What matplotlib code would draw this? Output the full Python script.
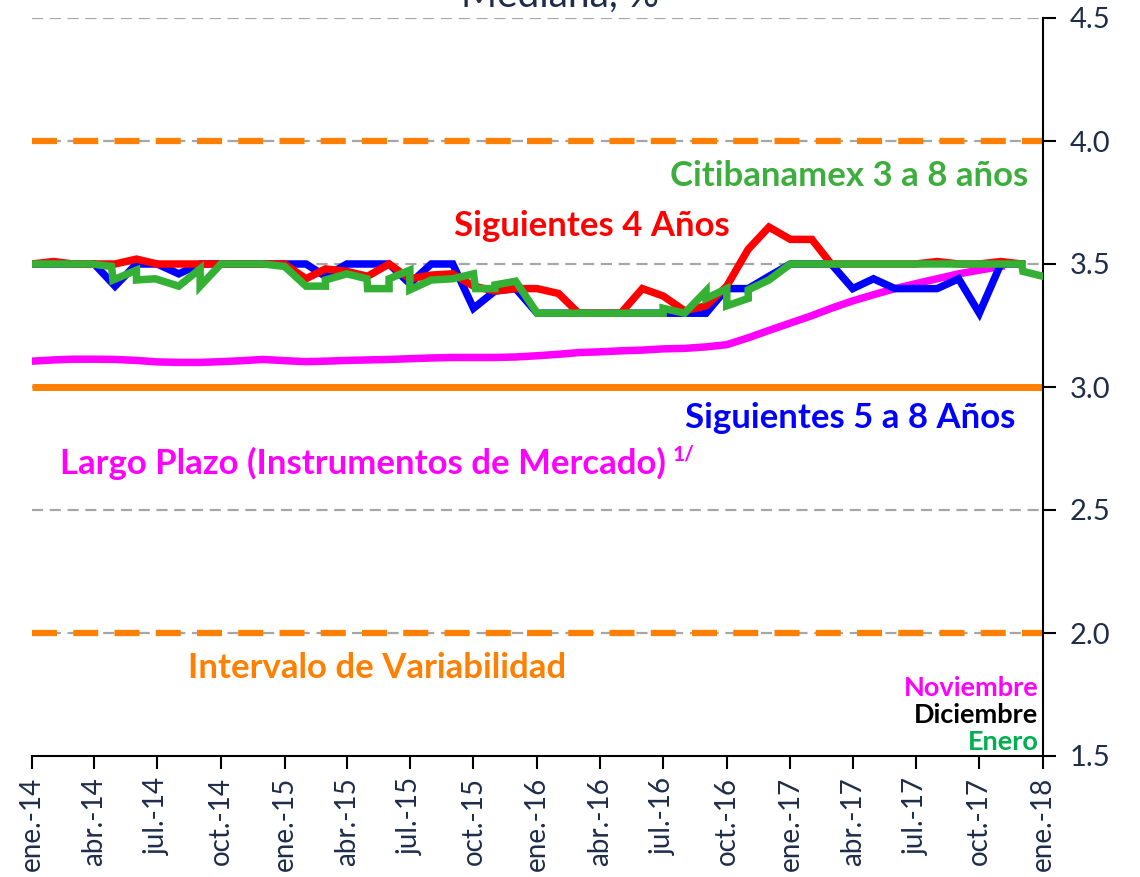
import matplotlib
matplotlib.use("Agg")
import matplotlib.pyplot as plt
import pandas as pd

plt.rcParams["font.family"] = ["Lato", "DejaVu Sans"]

# Monthly survey medians (Jan-2014 .. Dec-2017)
meses = pd.date_range("2014-01-01", periods=48, freq="MS")

siguientes_4 = [
    3.50, 3.51, 3.50, 3.50, 3.50, 3.52, 3.50, 3.50, 3.50, 3.50, 3.50, 3.50,
    3.50, 3.44, 3.48, 3.47, 3.45, 3.50, 3.44, 3.455, 3.46, 3.41, 3.39, 3.40,
    3.40, 3.38, 3.30, 3.30, 3.30, 3.40, 3.37, 3.31, 3.33, 3.41, 3.56, 3.65,
    3.60, 3.60, 3.50, 3.50, 3.50, 3.50, 3.50, 3.51, 3.50, 3.50, 3.51, 3.50,
]

siguientes_5_8 = [
    3.50, 3.50, 3.50, 3.50, 3.41, 3.50, 3.50, 3.46, 3.50, 3.50, 3.50, 3.50,
    3.50, 3.50, 3.45, 3.50, 3.50, 3.50, 3.42, 3.50, 3.50, 3.32, 3.39, 3.40,
    3.30, 3.30, 3.30, 3.30, 3.30, 3.30, 3.30, 3.30, 3.30, 3.40, 3.40, 3.45,
    3.50, 3.50, 3.50, 3.40, 3.44, 3.40, 3.40, 3.40, 3.44, 3.30, 3.50, 3.50,
]

# Market-implied long-term expectation (Jan-2014 .. Nov-2017)
largo_plazo = [
    3.105, 3.110, 3.113, 3.113, 3.112, 3.108, 3.102, 3.100, 3.100, 3.103,
    3.107, 3.112, 3.107, 3.103, 3.105, 3.108, 3.110, 3.112, 3.115, 3.118,
    3.120, 3.120, 3.120, 3.122, 3.127, 3.133, 3.140, 3.143, 3.147, 3.150,
    3.155, 3.157, 3.163, 3.172, 3.200, 3.230, 3.260, 3.290, 3.320, 3.350,
    3.375, 3.400, 3.420, 3.440, 3.460, 3.475, 3.490,
]

# Citibanamex biweekly survey, 3 to 8 years ahead
citi_fechas = [
    "2014-01-01", "2014-03-28", "2014-04-26", "2014-04-28", "2014-06-01",
    "2014-06-01", "2014-06-28", "2014-08-01", "2014-09-01", "2014-09-01",
    "2014-10-01", "2014-12-01", "2015-01-01", "2015-02-01", "2015-03-01",
    "2015-03-01", "2015-04-01", "2015-04-30", "2015-05-01", "2015-06-01",
    "2015-06-01", "2015-07-01", "2015-07-01", "2015-08-01", "2015-09-01",
    "2015-10-01", "2015-10-04", "2015-11-01", "2015-11-01", "2015-12-01",
    "2016-01-01", "2016-07-01", "2016-07-01", "2016-08-01", "2016-09-01",
    "2016-09-01", "2016-10-01", "2016-10-01", "2016-11-01", "2016-11-01",
    "2016-12-01", "2017-01-01", "2017-12-01", "2017-12-03", "2018-01-01",
]
citi_valores = [
    3.50, 3.50, 3.49, 3.435, 3.475,
    3.435, 3.44, 3.41, 3.48, 3.41,
    3.50, 3.50, 3.49, 3.41, 3.41,
    3.435, 3.46, 3.44, 3.40, 3.40,
    3.44, 3.475, 3.395, 3.435, 3.44,
    3.46, 3.40, 3.40, 3.415, 3.43,
    3.30, 3.30, 3.32, 3.30, 3.39,
    3.36, 3.40, 3.33, 3.36, 3.395,
    3.435, 3.50, 3.50, 3.47, 3.45,
]

meta = 3.0
intervalo = [2.0, 4.0]

xtick_fechas = pd.date_range("2014-01-01", "2018-01-01", freq="3MS")
xtick_etiquetas = [
    "ene.-14", "abr.-14", "jul.-14", "oct.-14",
    "ene.-15", "abr.-15", "jul.-15", "oct.-15",
    "ene.-16", "abr.-16", "jul.-16", "oct.-16",
    "ene.-17", "abr.-17", "jul.-17", "oct.-17",
    "ene.-18",
]
yticks = [1.5, 2.0, 2.5, 3.0, 3.5, 4.0, 4.5]

ROJO = "#FF0000"
AZUL = "#0000FF"
VERDE = "#34B034"
MAGENTA = "#FF00FF"
NARANJA = "#FF7F00"
TEXTO = "#1F2D4A"

fig = plt.figure(figsize=(11.4, 8.77), dpi=100)
ax = fig.add_axes([32 / 1140, 1 - 756 / 877, (1043 - 32) / 1140, (756 - 18) / 877])

# grid
for y in yticks[1:]:
    ax.axhline(y, color="#A6A6A6", lw=1.6, dashes=(5, 3), zorder=1)

# target and variability interval
ax.axhline(meta, color=NARANJA, lw=5, zorder=2, solid_capstyle="butt")
for y in intervalo:
    ax.axhline(y, color=NARANJA, lw=4.5, dashes=(4, 2.6), zorder=2)

lw = 5.4
ax.plot(meses[:len(largo_plazo)], largo_plazo, color=MAGENTA, lw=lw, zorder=3,
        solid_joinstyle="round")
ax.plot(meses, siguientes_5_8, color=AZUL, lw=lw, zorder=4, solid_joinstyle="miter")
ax.plot(meses, siguientes_4, color=ROJO, lw=lw, zorder=5, solid_joinstyle="miter")
ax.plot(pd.to_datetime(citi_fechas), citi_valores, color=VERDE, lw=lw, zorder=6,
        solid_joinstyle="miter")

ax.set_xlim(pd.Timestamp("2014-01-01"), pd.Timestamp("2018-01-01"))
ax.set_ylim(1.5, 4.5)

ax.spines["left"].set_visible(False)
ax.spines["top"].set_visible(False)
ax.spines["right"].set_linewidth(1.5)
ax.spines["bottom"].set_linewidth(1.5)

ax.yaxis.tick_right()
ax.set_yticks(yticks)
ax.set_yticklabels([f"{v:.1f}" for v in yticks])
ax.tick_params(axis="y", direction="out", length=9, width=1.5, pad=10,
               labelsize=21, labelcolor=TEXTO)

ax.set_xticks(xtick_fechas)
ax.set_xticklabels(xtick_etiquetas, rotation=90)
ax.tick_params(axis="x", direction="out", length=9, width=1.5, pad=6,
               labelsize=20, labelcolor=TEXTO)

# series labels
kw = dict(transform=ax.transAxes, fontweight="bold", va="center", fontsize=25)
ax.text(0.985, 0.7859, "Citibanamex 3 a 8 años", color="#3DAE3D", ha="right", **kw)
ax.text(0.5539, 0.7182, "Siguientes 4 Años", color=ROJO, ha="center", **kw)
ax.text(0.9723, 0.4580, "Siguientes 5 a 8 Años", color=AZUL, ha="right", **kw)
ax.text(0.0277, 0.3970, "Largo Plazo (Instrumentos de Mercado)", color=MAGENTA, ha="left", **kw)
ax.text(0.1543, 0.1192, "Intervalo de Variabilidad", color=NARANJA, ha="left", **kw)
ax.text(0.6335, 0.409, "1/", color=MAGENTA, ha="left", va="center", fontsize=15,
        fontweight="bold", transform=ax.transAxes)

kw2 = dict(transform=ax.transAxes, fontweight="bold", va="center", ha="right", fontsize=19.5)
ax.text(0.9955, 0.0921, "Noviembre", color=MAGENTA, **kw2)
ax.text(0.9955, 0.0556, "Diciembre", color="black", **kw2)
ax.text(0.9955, 0.0190, "Enero", color="#00B050", **kw2)

fig.text(0.491, 1 - 7 / 877, "Mediana, %", ha="center", va="baseline", fontsize=28,
         color=TEXTO)

fig.savefig("out.png", dpi=100)
